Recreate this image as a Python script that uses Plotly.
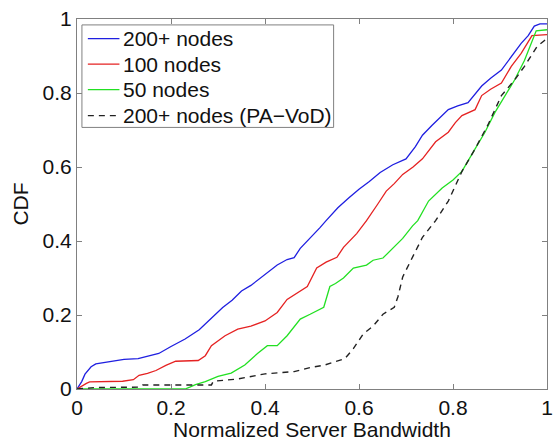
import plotly.graph_objects as go

# CDF of normalized server bandwidth for different system sizes
x_200 = [0, 0.01, 0.017, 0.03, 0.04, 0.06, 0.08, 0.10, 0.13, 0.15, 0.174, 0.20, 0.23, 0.26,
         0.286, 0.31, 0.33, 0.35, 0.37, 0.40, 0.426, 0.447, 0.462, 0.475, 0.496, 0.517, 0.53,
         0.555, 0.578, 0.60, 0.622, 0.645, 0.672, 0.70, 0.72, 0.735, 0.755, 0.777, 0.79, 0.81,
         0.832, 0.861, 0.88, 0.903, 0.925, 0.945, 0.96, 0.973, 0.985, 1.0]
y_200 = [0, 0.02, 0.04, 0.06, 0.068, 0.072, 0.078, 0.08, 0.082, 0.088, 0.096, 0.115, 0.135, 0.16,
         0.19, 0.22, 0.24, 0.265, 0.28, 0.31, 0.335, 0.35, 0.355, 0.38, 0.407, 0.436, 0.455,
         0.49, 0.516, 0.54, 0.561, 0.585, 0.606, 0.622, 0.655, 0.686, 0.712, 0.739, 0.755, 0.765,
         0.774, 0.819, 0.84, 0.862, 0.90, 0.934, 0.955, 0.981, 0.987, 0.987]

x_100 = [0, 0.01, 0.02, 0.027, 0.05, 0.097, 0.12, 0.132, 0.15, 0.168, 0.189, 0.21, 0.258, 0.273,
         0.286, 0.30, 0.315, 0.342, 0.37, 0.40, 0.426, 0.447, 0.468, 0.49, 0.51, 0.53, 0.553,
         0.567, 0.595, 0.616, 0.64, 0.658, 0.675, 0.693, 0.715, 0.735, 0.763, 0.79, 0.805, 0.819,
         0.847, 0.861, 0.88, 0.903, 0.924, 0.945, 0.958, 0.968, 1.0]
y_100 = [0, 0.008, 0.015, 0.019, 0.019, 0.021, 0.025, 0.037, 0.042, 0.05, 0.064, 0.075, 0.077, 0.09,
         0.117, 0.13, 0.144, 0.162, 0.17, 0.184, 0.207, 0.242, 0.26, 0.277, 0.327, 0.343, 0.356,
         0.383, 0.42, 0.455, 0.50, 0.535, 0.555, 0.58, 0.60, 0.622, 0.668, 0.694, 0.72, 0.739,
         0.755, 0.793, 0.81, 0.827, 0.872, 0.907, 0.934, 0.955, 0.958]

x_50 = [0, 0.23, 0.24, 0.252, 0.273, 0.30, 0.328, 0.345, 0.357, 0.37, 0.384, 0.405, 0.426, 0.447,
        0.46, 0.475, 0.496, 0.525, 0.538, 0.55, 0.567, 0.588, 0.616, 0.63, 0.651, 0.672, 0.693,
        0.714, 0.725, 0.748, 0.777, 0.80, 0.819, 0.847, 0.868, 0.889, 0.91, 0.931, 0.952, 0.966,
        0.977, 1.0]
y_50 = [0, 0, 0.005, 0.012, 0.02, 0.034, 0.043, 0.055, 0.065, 0.08, 0.096, 0.117, 0.117, 0.144,
        0.165, 0.189, 0.202, 0.221, 0.277, 0.285, 0.30, 0.327, 0.335, 0.348, 0.354, 0.38, 0.407,
        0.441, 0.455, 0.508, 0.543, 0.565, 0.588, 0.649, 0.694, 0.747, 0.793, 0.835, 0.888, 0.934,
        0.968, 0.971]

x_pavod = [0, 0.04, 0.132, 0.14, 0.286, 0.29, 0.342, 0.40, 0.462, 0.496, 0.525, 0.553, 0.57, 0.588,
           0.609, 0.63, 0.651, 0.675, 0.683, 0.693, 0.714, 0.735, 0.763, 0.79, 0.819, 0.847, 0.874,
           0.903, 0.931, 0.952, 0.979, 0.994, 1.0]
y_pavod = [0, 0.004, 0.005, 0.011, 0.011, 0.021, 0.027, 0.041, 0.047, 0.058, 0.064, 0.074, 0.082,
           0.109, 0.149, 0.17, 0.202, 0.221, 0.25, 0.303, 0.356, 0.41, 0.455, 0.508, 0.588, 0.649,
           0.713, 0.793, 0.835, 0.872, 0.926, 0.941, 0.95]

series_names = ["200+ nodes", "100 nodes", "50 nodes", "200+ nodes (PA\u2212VoD)"]
series_colors = ["#1f1fe0", "#e52222", "#22e022", "#222222"]
series_dash = ["solid", "solid", "solid", "6px,5px"]

tick_vals = [0, 0.2, 0.4, 0.6, 0.8, 1]
tick_text = ["0", "0.2", "0.4", "0.6", "0.8", "1"]

FONT = "Liberation Sans, Arial, sans-serif"
FS = 21

fig = go.Figure()
for xs, ys, name, color, dash in zip([x_200, x_100, x_50, x_pavod],
                                     [y_200, y_100, y_50, y_pavod],
                                     series_names, series_colors, series_dash):
    fig.add_trace(go.Scatter(x=xs, y=ys, mode="lines", name=name, showlegend=False,
                             line=dict(color=color, width=1.3 if dash == "solid" else 1.4,
                                       dash=dash)))

# MATLAB-style legend box drawn in axis-domain coordinates
shapes = [dict(type="rect", xref="x domain", yref="y domain",
               x0=0.0105, x1=0.546, y0=0.707, y1=0.984,
               line=dict(color="#808080", width=1), fillcolor="white", layer="above")]
annotations = []
row_y = [0.947, 0.878, 0.809, 0.739]
for ry, name, color, dash in zip(row_y, series_names, series_colors, series_dash):
    shapes.append(dict(type="line", xref="x domain", yref="y domain",
                       x0=0.0231, x1=0.0903, y0=ry, y1=ry, layer="above",
                       line=dict(color=color, width=1.3, dash=dash)))
    annotations.append(dict(xref="x domain", yref="y domain", x=0.0945, y=ry,
                            xanchor="left", yanchor="middle", showarrow=False,
                            text=name, font=dict(family=FONT, size=FS, color="#111111")))

axis_common = dict(
    range=[0, 1], tickvals=tick_vals, ticktext=tick_text,
    showline=True, linecolor="#808080", linewidth=1.2, mirror="ticks",
    ticks="inside", ticklen=5, tickcolor="#808080", tickwidth=1,
    showgrid=False, zeroline=False,
    tickfont=dict(family=FONT, size=FS, color="#111111"),
)

fig.update_layout(
    width=560, height=441,
    margin=dict(l=77, r=7, t=15, b=50),
    paper_bgcolor="white", plot_bgcolor="white",
    font=dict(family=FONT, size=FS, color="#111111"),
    xaxis=dict(**axis_common,
               title=dict(text="Normalized Server Bandwidth", standoff=0,
                          font=dict(family=FONT, size=FS, color="#111111"))),
    yaxis=dict(**axis_common,
               title=dict(text="CDF", standoff=8,
                          font=dict(family=FONT, size=FS, color="#111111"))),
    shapes=shapes,
    annotations=annotations,
    showlegend=False,
)

fig.write_html("out.html")
